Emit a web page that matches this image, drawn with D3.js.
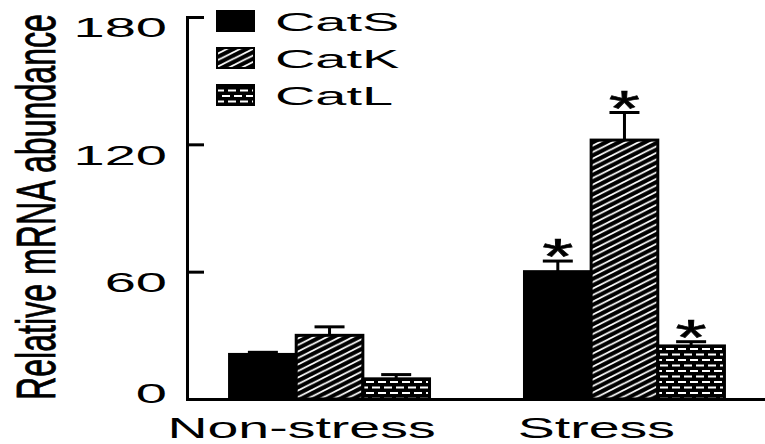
<!DOCTYPE html>
<html>
<head>
<meta charset="utf-8">
<script src="https://cdn.jsdelivr.net/npm/d3@7/dist/d3.min.js"></script>
<style>
  html, body { margin: 0; padding: 0; background: #fff; }
  svg { display: block; }
  text { font-family: Arial, "Liberation Sans", Helvetica, sans-serif; fill: #000; }
</style>
</head>
<body>
<svg id="chart" width="765" height="444"></svg>
<script>
// Relative mRNA abundance of cathepsins S, K and L
const groups = ["Non-stress", "Stress"];
const series = ["CatS", "CatK", "CatL"];
const catS = [21, 60];
const catK = [30, 122];
const catL = [9.5, 25];
const errS = [1, 5];
const errK = [4, 13];
const errL = [2, 2];
const sigS = [false, true];
const sigK = [false, true];
const sigL = [false, true];
const yTicks = [0, 60, 120, 180];
const yTitle = "Relative mRNA abundance";

const values = { CatS: catS, CatK: catK, CatL: catL };
const errors = { CatS: errS, CatK: errK, CatL: errL };
const signif = { CatS: sigS, CatK: sigK, CatL: sigL };

const rows = [];
groups.forEach((g, gi) => series.forEach(s => rows.push({
  group: g, series: s, value: values[s][gi], err: errors[s][gi], sig: signif[s][gi]
})));

const svg = d3.select("#chart");
const fills = { CatS: "#000", CatK: "url(#stripeK)", CatL: "url(#brickL)" };

// fill patterns
const defs = svg.append("defs");
// diagonal white hatching on black, rising to the right at a shallow angle
const hw = 13, hh = 6.5;
const pk = defs.append("pattern").attr("id", "stripeK")
  .attr("patternUnits", "userSpaceOnUse").attr("width", hw).attr("height", hh);
pk.append("rect").attr("width", hw).attr("height", hh).attr("fill", "#000");
pk.append("path")
  .attr("d", `M${-hw / 4},${hh / 4}L${hw / 4},${-hh / 4}M0,${hh}L${hw},0M${hw * 3 / 4},${hh * 5 / 4}L${hw * 5 / 4},${hh * 3 / 4}`)
  .attr("stroke", "#fff").attr("stroke-width", 1.8);

// staggered white dashes on black
const pl = defs.append("pattern").attr("id", "brickL")
  .attr("patternUnits", "userSpaceOnUse").attr("width", 12).attr("height", 11);
pl.append("rect").attr("width", 12).attr("height", 11).attr("fill", "#000");
pl.append("rect").attr("x", 0).attr("y", 1.5).attr("width", 8).attr("height", 2).attr("fill", "#fff");
pl.append("rect").attr("x", 6).attr("y", 7).attr("width", 6).attr("height", 2).attr("fill", "#fff");
pl.append("rect").attr("x", 0).attr("y", 7).attr("width", 2).attr("height", 2).attr("fill", "#fff");

// widen text horizontally to the figure's stretched lettering
function stretch(sel, k) {
  sel.each(function () {
    const w = this.getComputedTextLength();
    d3.select(this).attr("textLength", w * k).attr("lengthAdjust", "spacingAndGlyphs");
  });
}

const x0 = d3.scaleBand().domain(groups).range([189, 765])
  .paddingInner(0.322).paddingOuter(0.1375);
const x1 = d3.scaleBand().domain(series).range([0, x0.bandwidth()]).padding(0);
const y = d3.scaleLinear().domain([0, 180]).range([399, 17]);

// bars
const bars = svg.append("g");
bars.selectAll("rect").data(rows).join("rect")
  .attr("x", d => x0(d.group) + x1(d.series))
  .attr("y", d => y(d.value))
  .attr("width", x1.bandwidth())
  .attr("height", d => y(0) - y(d.value))
  .attr("fill", d => fills[d.series])
  .attr("stroke", "#000").attr("stroke-width", 3);

// error bars (upper only)
const eb = svg.append("g").attr("stroke", "#000").attr("stroke-width", 3);
rows.forEach(d => {
  const cx = x0(d.group) + x1(d.series) + x1.bandwidth() / 2;
  eb.append("line").attr("x1", cx).attr("x2", cx)
    .attr("y1", y(d.value)).attr("y2", y(d.value + d.err));
  eb.append("line").attr("x1", cx - 15).attr("x2", cx + 15)
    .attr("y1", y(d.value + d.err)).attr("y2", y(d.value + d.err));
});

// significance marks
const stars = svg.append("g").selectAll("text").data(rows.filter(d => d.sig)).join("text")
  .attr("x", d => x0(d.group) + x1(d.series) + x1.bandwidth() / 2)
  .attr("y", d => y(d.value + d.err) + 13)
  .attr("text-anchor", "middle")
  .attr("font-size", 50)
  .attr("stroke", "#000").attr("stroke-width", 0.6)
  .text("*");
stretch(stars, 1.6);

// y axis
const yAxis = svg.append("g").attr("transform", "translate(187,0)")
  .call(d3.axisLeft(y).tickValues(yTicks).tickSizeInner(-17).tickSizeOuter(0).tickPadding(20));
yAxis.select(".domain").attr("stroke-width", 3).attr("stroke-linecap", "square");
yAxis.selectAll(".tick line").attr("stroke-width", 3);
const yt = yAxis.selectAll(".tick text")
  .attr("font-size", 28).attr("font-family", null)
  .attr("x", -20).attr("dy", "0.35em")
  .attr("y", d => Math.min(10, y(0) - y(d) - 6));
stretch(yt, 2);

// x axis
const xAxis = svg.append("g").attr("transform", `translate(0,${y(0)})`)
  .call(d3.axisBottom(x0).tickSize(0).tickSizeOuter(0).tickPadding(0));
xAxis.select(".domain").attr("stroke-width", 3).attr("stroke-linecap", "square");
const xt = xAxis.selectAll(".tick text")
  .attr("font-size", 30).attr("font-family", null)
  .attr("dy", null).attr("y", 39).attr("dx", -28);
stretch(xt, 1.85);

// y title: rotated, thickened across its baseline
svg.append("text")
  .attr("transform", "translate(55,400) rotate(-90) scale(1,1.75)")
  .attr("font-size", 32)
  .attr("stroke", "#000").attr("stroke-width", 0.5)
  .attr("textLength", 386).attr("lengthAdjust", "spacingAndGlyphs")
  .text(yTitle);

// legend
const legend = svg.append("g");
const legY = [11, 48, 85];
series.forEach((s, i) => {
  legend.append("rect").attr("x", 217).attr("y", legY[i])
    .attr("width", 37).attr("height", 20)
    .attr("fill", fills[s]).attr("stroke", "#000").attr("stroke-width", 2);
  const t = legend.append("text").attr("x", 275).attr("y", legY[i] + 20)
    .attr("font-size", 26).text(s);
  stretch(t, 2.15);
});
</script>
</body>
</html>
